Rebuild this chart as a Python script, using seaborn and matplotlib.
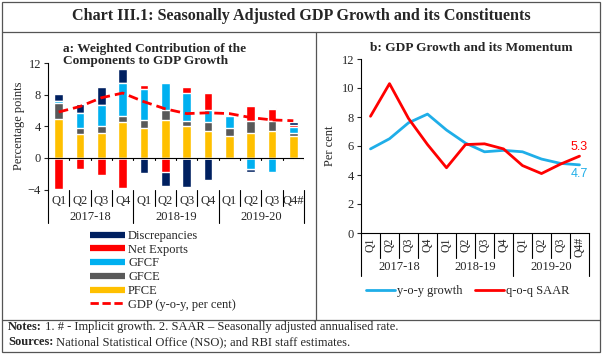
import numpy as np
import pandas as pd
import matplotlib
matplotlib.use("Agg")
import matplotlib.pyplot as plt
import matplotlib.transforms as mtransforms
from matplotlib.lines import Line2D
from matplotlib.patches import Rectangle
import seaborn as sns

# datos
trimestres = ["Q1", "Q2", "Q3", "Q4", "Q1", "Q2", "Q3", "Q4", "Q1", "Q2", "Q3", "Q4#"]
anios = ["2017-18", "2018-19", "2019-20"]

pfce = [4.87, 2.97, 3.10, 4.60, 3.80, 4.80, 4.00, 3.45, 2.80, 3.10, 3.45, 2.75]
gfce = [2.10, 0.85, 0.90, 0.65, 1.00, 1.25, 0.70, 1.15, 1.00, 1.60, 1.25, 0.45]
gfcf = [0.20, 1.80, 2.65, 4.25, 3.90, 3.40, 3.55, 1.45, 1.50, -1.35, -1.80, 0.75]
net_exports = [-3.90, -1.35, -2.20, -3.80, 0.50, -1.80, 0.70, 2.15, 0.00, 1.85, 1.50, 0.25]
discrepancies = [0.85, 1.15, 2.30, 1.70, -1.90, -1.70, -3.70, -2.85, -0.10, -0.45, 0.10, 0.30]

gdp_yoy = [5.8, 6.5, 7.6, 8.2, 7.1, 6.2, 5.6, 5.7, 5.6, 5.1, 4.8, 4.7]
gdp_saar = [8.05, 10.3, 7.9, 6.1, 4.5, 6.1, 6.15, 5.8, 4.65, 4.1, 4.75, 5.3]

componentes = ["PFCE", "GFCE", "GFCF", "Net Exports", "Discrepancies"]
colores = {"PFCE": "#FFC000", "GFCE": "#595959", "GFCF": "#00B0F0",
           "Net Exports": "#FF0000", "Discrepancies": "#002060"}
AZUL = "#1FAEE8"
ROJO = "#FF0000"

W, H = 603, 354

sns.set_theme(style="white")
plt.rcParams["font.family"] = ["Liberation Serif", "DejaVu Serif"]
plt.rcParams["axes.linewidth"] = 0.8


def fy(py):
    """pixel vertical -> fraccion de figura"""
    return 1 - py / H


def fx(px):
    return px / W


fig = plt.figure(figsize=(W / 100, H / 100), dpi=100)

# marcos de la tabla
fig.add_artist(Rectangle((fx(2), fy(352)), fx(598), 350 / H, transform=fig.transFigure,
                         fill=False, lw=0.9, ec="#555555"))
for yy in (32, 320):
    fig.add_artist(Line2D([fx(2), fx(600)], [fy(yy), fy(yy)], transform=fig.transFigure,
                          lw=0.9, color="#555555"))
fig.add_artist(Line2D([fx(316), fx(316)], [fy(32), fy(320)], transform=fig.transFigure,
                      lw=0.9, color="#555555"))

fig.text(0.5, fy(16), "Chart III.1: Seasonally Adjusted GDP Growth and its Constituents",
         ha="center", va="center", fontsize=11.6, fontweight="bold")

# ---------------- panel a ----------------
ax_a = fig.add_axes([fx(48), fy(189.5), (304 - 48) / W, (189.5 - 63) / H])
x = np.arange(len(trimestres))
valores = np.array([pfce, gfce, gfcf, net_exports, discrepancies])
cum_pos = np.cumsum(np.clip(valores, 0, None), axis=0)
cum_neg = np.cumsum(np.clip(valores, None, 0), axis=0)

# se dibujan de afuera hacia adentro para simular barras apiladas
for k in range(len(componentes) - 1, -1, -1):
    nombre = componentes[k]
    for alto in (cum_pos[k], cum_neg[k]):
        sns.barplot(x=x, y=alto, ax=ax_a, color=colores[nombre], width=0.42,
                    saturation=1, errorbar=None, zorder=2)

sns.lineplot(x=x, y=gdp_yoy, ax=ax_a, color=ROJO, lw=2, linestyle=(0, (3.5, 1.8)), zorder=4)

ax_a.set_xlim(-0.5, 11.5)
ax_a.set_ylim(-4, 12)
ax_a.set_yticks([-4, 0, 4, 8, 12])
ax_a.tick_params(axis="y", labelsize=9, length=3, width=0.8, left=True, pad=2)
ax_a.set_xticks(x)
ax_a.set_xticklabels(trimestres, fontsize=9)
ax_a.tick_params(axis="x", length=0, pad=4)
ax_a.axhline(0, color="black", lw=0.8, zorder=3)
for s in ("top", "right", "bottom"):
    ax_a.spines[s].set_visible(False)
ax_a.spines["left"].set_color("black")
ax_a.set_ylabel("Percentage points", fontsize=9, labelpad=2)
ax_a.set_xlabel("")

tr_a = mtransforms.blended_transform_factory(ax_a.transData, fig.transFigure)
for b in np.arange(-0.5, 12, 1):
    larga = (b + 0.5) % 4 == 0
    y_fin = 223 if larga else 206
    ax_a.add_artist(Line2D([b, b], [fy(190), fy(y_fin)], transform=tr_a, color="black",
                           lw=0.8, clip_on=False))
    ax_a.plot([b, b], [0, -0.3], color="black", lw=0.8, zorder=3)
for i, anio in enumerate(anios):
    ax_a.text(4 * i + 1.5, fy(217), anio, transform=tr_a, ha="center", va="center", fontsize=9)

ax_a.text(fx(63), fy(55), "a: Weighted Contribution of the\nComponents to GDP Growth",
          transform=fig.transFigure, ha="left", va="center", fontsize=9.6,
          fontweight="bold", linespacing=1.05)

handles_a = [Line2D([], [], color=colores[n], lw=4.5, solid_capstyle="butt")
             for n in componentes[::-1]]
handles_a.append(Line2D([], [], color=ROJO, lw=2, linestyle=(0, (3, 1.3)),
                        dash_capstyle="butt"))
fig.legend(handles_a, componentes[::-1] + ["GDP (y-o-y, per cent)"],
           loc="upper left", bbox_to_anchor=(fx(90), fy(230)), frameon=False,
           fontsize=9, handlelength=2.8, handletextpad=0.25, labelspacing=0.14,
           borderaxespad=0, borderpad=0)

# ---------------- panel b ----------------
ax_b = fig.add_axes([fx(361), fy(233), (589 - 361) / W, (233 - 59) / H])
df_b = pd.DataFrame({"pos": x, "yoy": gdp_yoy, "saar": gdp_saar})
sns.lineplot(data=df_b, x="pos", y="yoy", ax=ax_b, color=AZUL, lw=2, label="y-o-y growth")
sns.lineplot(data=df_b, x="pos", y="saar", ax=ax_b, color=ROJO, lw=2, label="q-o-q SAAR")
ax_b.set_xlim(-0.5, 11.5)
ax_b.set_ylim(0, 12)
ax_b.set_yticks(range(0, 13, 2))
ax_b.tick_params(axis="y", labelsize=9, length=3, width=0.8, left=True, pad=2)
ax_b.set_xticks(x)
ax_b.set_xticklabels(trimestres, fontsize=8.5, rotation=90)
ax_b.tick_params(axis="x", length=0, pad=3)
for s in ("top", "right"):
    ax_b.spines[s].set_visible(False)
for s in ("left", "bottom"):
    ax_b.spines[s].set_color("black")
ax_b.set_ylabel("Per cent", fontsize=9, labelpad=4)
ax_b.set_xlabel("")

tr_b = mtransforms.blended_transform_factory(ax_b.transData, fig.transFigure)
for b in np.arange(-0.5, 12, 1):
    larga = (b + 0.5) % 4 == 0
    y_fin = 276 if larga else 258
    ax_b.add_artist(Line2D([b, b], [fy(233), fy(y_fin)], transform=tr_b, color="black",
                           lw=0.8, clip_on=False))
for i, anio in enumerate(anios):
    ax_b.text(4 * i + 1.5, fy(267), anio, transform=tr_b, ha="center", va="center", fontsize=9)

ax_b.text(11, gdp_saar[-1] + 0.6, f"{gdp_saar[-1]:.1f}", color=ROJO, ha="center",
          va="center", fontsize=9, family=["Liberation Sans", "DejaVu Sans"])
ax_b.text(11, gdp_yoy[-1] - 0.65, f"{gdp_yoy[-1]:.1f}", color=AZUL, ha="center",
          va="center", fontsize=9, family=["Liberation Sans", "DejaVu Sans"])

ax_b.text(fx(370), fy(48), "b: GDP Growth and its Momentum", transform=fig.transFigure,
          ha="left", va="center", fontsize=9.6, fontweight="bold")

ax_b.legend(loc="center left", bbox_to_anchor=(fx(366), fy(291)),
            bbox_transform=fig.transFigure, ncol=2, frameon=False, fontsize=9,
            handlelength=2.3, handletextpad=0.2, columnspacing=1.0, borderpad=0,
            borderaxespad=0)

# ---------------- notas ----------------
renderer = fig.canvas.get_renderer()
for yy, negrita, resto in [
    (327, "Notes:", " 1. # - Implicit growth. 2. SAAR \u2013 Seasonally adjusted annualised rate."),
    (342, "Sources:", " National Statistical Office (NSO); and RBI staff estimates."),
]:
    t = fig.text(fx(8), fy(yy), negrita, fontsize=9, fontweight="bold", va="center")
    ancho = t.get_window_extent(renderer).width
    fig.text(fx(8) + ancho / W, fy(yy), resto, fontsize=9, va="center")

fig.savefig("out.png", dpi=100)
